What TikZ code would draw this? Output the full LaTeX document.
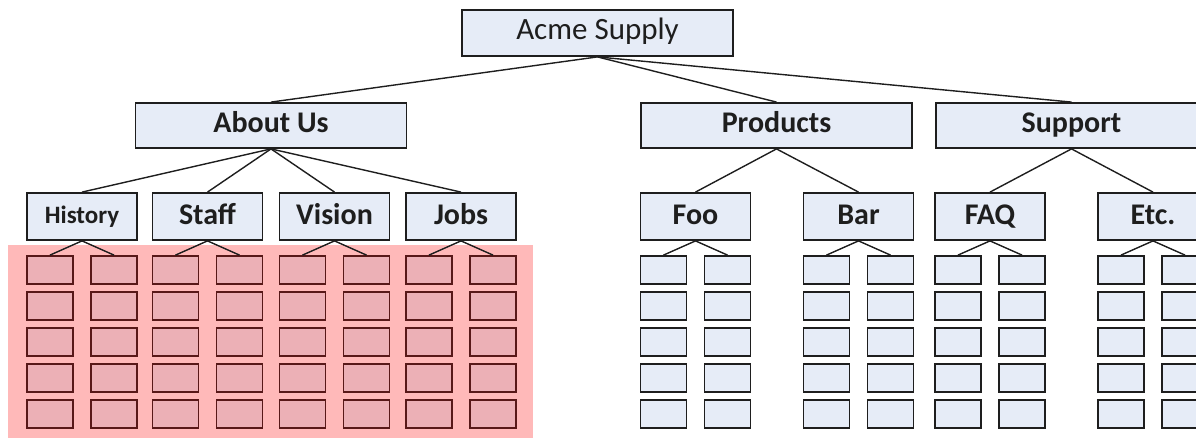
\documentclass[tikz,border=0pt]{standalone}
\usepackage{fontspec}
\setmainfont{Carlito}
\definecolor{boxblue}{RGB}{230,236,247}
\definecolor{bgpink}{RGB}{255,185,185}
\definecolor{leafpink}{RGB}{236,176,182}
\definecolor{leafline}{RGB}{88,24,24}
\definecolor{inkgray}{RGB}{30,30,30}
\begin{document}
\begin{tikzpicture}[x=1pt,y=-1pt,
  box/.style={draw=inkgray,line width=1.8pt,fill=boxblue,inner sep=0pt,text=inkgray},
  topbox/.style={box,minimum width=271pt,minimum height=46pt,text height=20pt,text depth=7pt,font=\fontsize{31}{36}\selectfont},
  lvlbox/.style={box,minimum width=271pt,minimum height=45pt,text height=21pt,text depth=6pt,font=\bfseries\fontsize{30}{36}\selectfont},
  secbox/.style={box,minimum width=110pt,minimum height=47pt,text height=21pt,text depth=5pt,font=\bfseries\fontsize{30}{36}\selectfont},
  leafbox/.style={box,minimum width=46pt,minimum height=28pt},
  redleaf/.style={leafbox,draw=leafline,fill=leafpink},
  link/.style={draw=inkgray,line width=1.4pt}]
\useasboundingbox (0,0) rectangle (1196,438);
\clip (0,0) rectangle (1196,438);
% pink highlight
\fill[bgpink] (8,245) rectangle (533,438);
% root and level 2
\node[topbox] (acme) at (597.5,33) {Acme Supply};
\node[lvlbox] (about) at (271,125.5) {About Us};
\node[lvlbox] (products) at (776.5,125.5) {Products};
\node[lvlbox] (support) at (1071.5,125.5) {Support};
\draw[link] (acme.south) -- (about.north);
\draw[link] (acme.south) -- (products.north);
\draw[link] (acme.south) -- (support.north);
% level 3
\node[secbox,font=\bfseries\fontsize{25}{30}\selectfont,text height=18pt,text depth=4pt] (hist) at (82,216.5) {History};
\node[secbox] (staff) at (207.5,216.5) {Staff};
\node[secbox] (vision) at (334.5,216.5) {Vision};
\node[secbox] (jobs) at (461,216.5) {Jobs};
\node[secbox] (foo) at (695.5,216.5) {Foo};
\node[secbox] (bar) at (858.5,216.5) {Bar};
\node[secbox] (faq) at (990,216.5) {FAQ};
\node[secbox] (etc) at (1153,216.5) {Etc.};
\foreach \c in {hist,staff,vision,jobs} \draw[link] (about.south) -- (\c.north);
\foreach \c in {foo,bar} \draw[link] (products.south) -- (\c.north);
\foreach \c in {faq,etc} \draw[link] (support.south) -- (\c.north);
% leaves
\foreach \n/\cx/\s in {hist/82/redleaf, staff/207.5/redleaf, vision/334.5/redleaf, jobs/461/redleaf,
                       foo/695.5/leafbox, bar/858.5/leafbox, faq/990/leafbox, etc/1153/leafbox} {
  \foreach \r in {1,...,5} {
    \node[\s] (\n-l\r) at ({\cx-32},{234+36*\r}) {};
    \node[\s] (\n-r\r) at ({\cx+32},{234+36*\r}) {};
  }
  \draw[link] (\n.south) -- (\n-l1.north);
  \draw[link] (\n.south) -- (\n-r1.north);
}
\end{tikzpicture}
\end{document}
